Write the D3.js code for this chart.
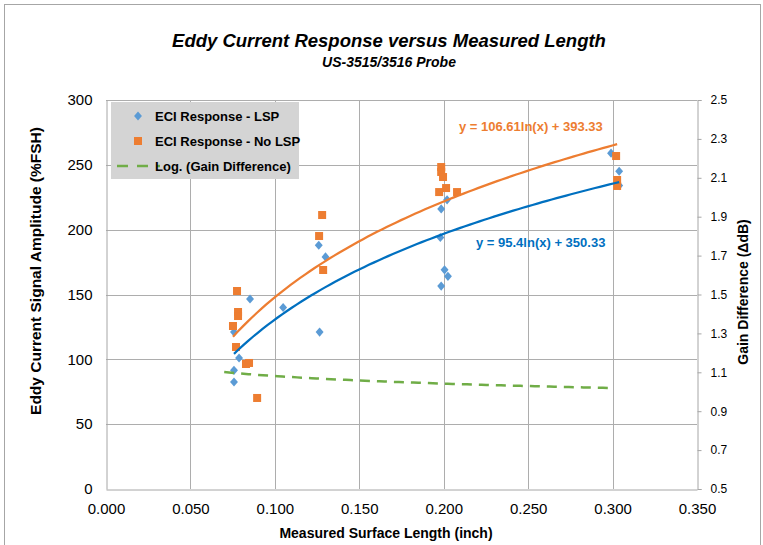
<!DOCTYPE html>
<html>
<head>
<meta charset="utf-8">
<script src="https://cdn.jsdelivr.net/npm/d3@7"></script>
<style>
  html, body { margin: 0; padding: 0; background: #fff; }
  svg { display: block; }
  text { font-family: "Liberation Sans", Arial, sans-serif; fill: #000; }
</style>
</head>
<body>
<svg id="chart" width="763" height="545"></svg>
<script>
// Measured surface length (inch) and ECI amplitude (%FSH), with LSP
const lspLength = [0.0758, 0.0758, 0.0788, 0.0758, 0.0853, 0.1049, 0.1260, 0.1300, 0.1265,
                   0.1980, 0.1985, 0.2020, 0.2005, 0.2025, 0.1985, 0.2991, 0.3039, 0.3039];
const lspAmp    = [82.5, 91.5, 101, 121, 146.5, 140, 188, 179, 121,
                   194, 216, 223, 169, 164, 156.5, 259, 245, 234];

// Same indications without LSP
const noLspLength = [0.0776, 0.0782, 0.0782, 0.0752, 0.0770, 0.0829, 0.0847, 0.0895,
                     0.1280, 0.1262, 0.1286,
                     0.1985, 0.1985, 0.1996, 0.1973, 0.2014, 0.2079,
                     0.3021, 0.3027, 0.3027];
const noLspAmp    = [152.7, 136.5, 133.4, 125.7, 109.5, 96.4, 97.2, 70.2,
                     211.3, 195.1, 168.9,
                     248.3, 244.5, 240.6, 229, 232.1, 229,
                     256.8, 238.3, 233.7];

// Logarithmic trend fits: y = a*ln(x) + b
const lspFit   = { a: 95.4,   b: 350.33, from: 0.0758, to: 0.3039 };
const noLspFit = { a: 106.61, b: 393.33, from: 0.0752, to: 0.3027 };
const gainFit  = { a: -0.0564, b: 0.951, from: 0.070, to: 0.300 };

// Axis ticks
const xTicks = [0, 0.05, 0.10, 0.15, 0.20, 0.25, 0.30, 0.35];
const yTicks = [0, 50, 100, 150, 200, 250, 300];
const y2Ticks = [0.5, 0.7, 0.9, 1.1, 1.3, 1.5, 1.7, 1.9, 2.1, 2.3, 2.5];

const legendLabels = ["ECI Response - LSP", "ECI Response - No LSP", "Log. (Gain Difference)"];

const blue = "#5B9BD5", blueLine = "#0070C0", orange = "#ED7D31", green = "#70AD47";

const svg = d3.select("#chart");
const L = 106, R = 697, T = 100, B = 489;

const x = d3.scaleLinear().domain([0, 0.35]).range([L, R]);
const y = d3.scaleLinear().domain([0, 300]).range([B, T]);
const y2 = d3.scaleLinear().domain([0.5, 2.5]).range([B, T]);

// outer frame
svg.append("rect").attr("x", 4.5).attr("y", 4.5).attr("width", 756).attr("height", 560)
  .attr("fill", "none").attr("stroke", "#a6a6a6").attr("stroke-width", 1);

// titles
svg.append("text").attr("x", 389).attr("y", 47).attr("text-anchor", "middle")
  .style("font-size", "18.5px").style("font-weight", "bold").style("font-style", "italic")
  .text("Eddy Current Response versus Measured Length");
svg.append("text").attr("x", 389).attr("y", 67).attr("text-anchor", "middle")
  .style("font-size", "14px").style("font-weight", "bold").style("font-style", "italic")
  .text("US-3515/3516 Probe");

// gridlines
const grid = svg.append("g").attr("stroke", "#adadad").attr("stroke-width", 1);
grid.selectAll("line.h").data(yTicks.slice(1)).join("line")
  .attr("x1", L).attr("x2", R)
  .attr("y1", d => Math.round(y(d)) + 0.5).attr("y2", d => Math.round(y(d)) + 0.5);
grid.selectAll("line.v").data(xTicks.slice(1, -1)).join("line")
  .attr("y1", T).attr("y2", B)
  .attr("x1", d => Math.round(x(d)) + 0.5).attr("x2", d => Math.round(x(d)) + 0.5);

// axes
const axL = svg.append("g").attr("transform", `translate(${L + 0.5},0)`)
  .call(d3.axisLeft(y).tickValues(yTicks).tickSize(0).tickPadding(14).tickFormat(d3.format("d")));
const axR = svg.append("g").attr("transform", `translate(${R + 0.5},0)`)
  .call(d3.axisRight(y2).tickValues(y2Ticks).tickSize(4).tickPadding(9).tickFormat(d3.format(".1f")));
const axB = svg.append("g").attr("transform", `translate(0,${B + 0.5})`)
  .call(d3.axisBottom(x).tickValues(xTicks).tickSize(0).tickPadding(14).tickFormat(d3.format(".3f")));
[axL, axR, axB].forEach(g => {
  g.select(".domain").attr("stroke", "#a6a6a6");
  g.selectAll(".tick line").attr("stroke", "#a6a6a6");
  g.selectAll("text").attr("fill", "#1a1a1a").style("font-family", "'Liberation Sans', Arial, sans-serif");
});
axL.selectAll("text").style("font-size", "15px");
axB.selectAll("text").style("font-size", "15px");
axR.selectAll("text").style("font-size", "12px");

// axis titles
svg.append("text").attr("transform", `translate(41,271) rotate(-90)`).attr("text-anchor", "middle")
  .style("font-size", "15.5px").style("font-weight", "bold")
  .text("Eddy Current Signal Amplitude  (%FSH)");
svg.append("text").attr("transform", `translate(748,292) rotate(-90)`).attr("text-anchor", "middle")
  .style("font-size", "14px").style("font-weight", "bold")
  .text("Gain Difference (\u0394dB)");
svg.append("text").attr("x", 386).attr("y", 538).attr("text-anchor", "middle")
  .style("font-size", "14px").style("font-weight", "bold")
  .text("Measured Surface Length (inch)");

// markers
const diamond = d3.symbol().type(d3.symbolDiamond2).size(40);
svg.append("g").selectAll("path").data(d3.range(lspLength.length)).join("path")
  .attr("d", diamond)
  .attr("transform", i => `translate(${x(lspLength[i])},${y(lspAmp[i])}) scale(1,1.15)`)
  .attr("fill", blue);
svg.append("g").selectAll("rect").data(d3.range(noLspLength.length)).join("rect")
  .attr("x", i => x(noLspLength[i]) - 4).attr("y", i => y(noLspAmp[i]) - 4)
  .attr("width", 8).attr("height", 8).attr("fill", orange);

// trend lines
function fitPoints(f) {
  const n = 80;
  return d3.range(n + 1).map(k => {
    const xv = f.from + (f.to - f.from) * k / n;
    return [xv, f.a * Math.log(xv) + f.b];
  });
}
const line = d3.line().x(d => x(d[0])).y(d => y(d[1]));
const line2 = d3.line().x(d => x(d[0])).y(d => y2(d[1]));
svg.append("path").attr("d", line(fitPoints(noLspFit))).attr("fill", "none")
  .attr("stroke", orange).attr("stroke-width", 2.25);
svg.append("path").attr("d", line(fitPoints(lspFit))).attr("fill", "none")
  .attr("stroke", blueLine).attr("stroke-width", 2.25);
svg.append("path").attr("d", line2(fitPoints(gainFit))).attr("fill", "none")
  .attr("stroke", green).attr("stroke-width", 2.5).attr("stroke-dasharray", "10,7");

// equation labels
svg.append("text").attr("x", 459).attr("y", 131).style("font-size", "13px").style("font-weight", "bold")
  .style("fill", orange)
  .text(`y = ${noLspFit.a}ln(x) + ${noLspFit.b}`);
svg.append("text").attr("x", 476).attr("y", 247).style("font-size", "13px").style("font-weight", "bold")
  .style("fill", blueLine)
  .text(`y = ${lspFit.a}ln(x) + ${lspFit.b}`);

// legend
const lg = svg.append("g");
lg.append("rect").attr("x", 111).attr("y", 102).attr("width", 188).attr("height", 77).attr("fill", "#d4d4d4");
const rowY = [116, 141, 166];
lg.append("path").attr("d", diamond).attr("transform", `translate(138,${rowY[0]}) scale(1,1.15)`).attr("fill", blue);
lg.append("rect").attr("x", 134).attr("y", rowY[1] - 4).attr("width", 8).attr("height", 8).attr("fill", orange);
lg.append("line").attr("x1", 117).attr("x2", 160).attr("y1", rowY[2]).attr("y2", rowY[2])
  .attr("stroke", green).attr("stroke-width", 2.5).attr("stroke-dasharray", "11,9");
lg.selectAll("text").data(legendLabels).join("text")
  .attr("x", 155).attr("y", (d, i) => rowY[i] + 5)
  .style("font-size", "13px").style("font-weight", "bold").text(d => d);
</script>
</body>
</html>
